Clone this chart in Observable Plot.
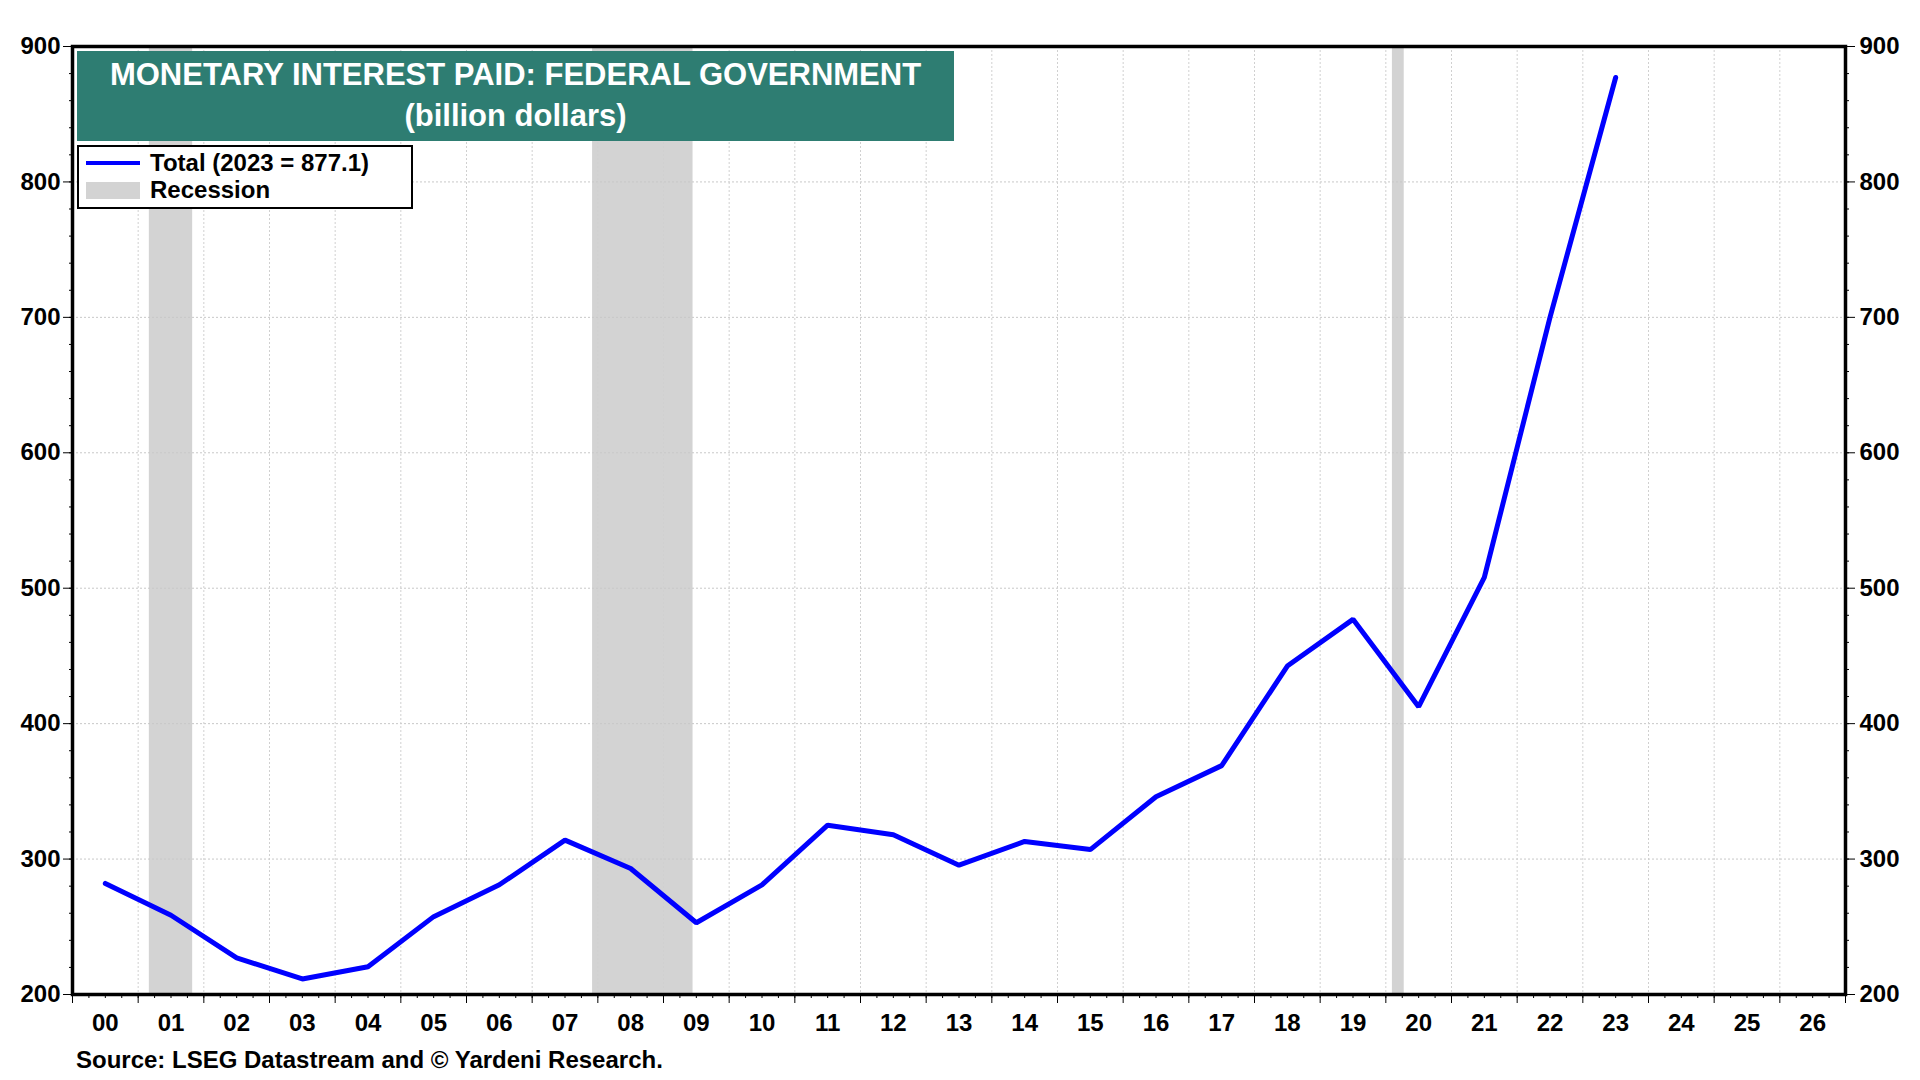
<!DOCTYPE html>
<html>
<head>
<meta charset="utf-8">
<script src="https://cdn.jsdelivr.net/npm/d3@7"></script>
<script src="https://cdn.jsdelivr.net/npm/@observablehq/plot@0.6"></script>
<style>
  html, body { margin: 0; padding: 0; background: #fff; }
  #wrap { position: relative; width: 1920px; height: 1080px; overflow: hidden; font-family: "Liberation Sans", Arial, sans-serif; font-weight: bold; }
  #title { position: absolute; left: 77px; top: 51px; width: 877px; height: 90px; background: #2E7D72; color: #fff; text-align: center; }
  #title .l1 { position: absolute; left: 0; right: 0; top: 8px; font-size: 31px; line-height: 32px; white-space: nowrap; }
  #title .l2 { position: absolute; left: 0; right: 0; top: 49px; font-size: 31px; line-height: 32px; }
  #legend { position: absolute; left: 77px; top: 145px; width: 332px; height: 60px; background: #fff; border: 2px solid #000; }
  #legend .row { position: absolute; left: 0; height: 26px; display: flex; align-items: center; font-size: 24px; color: #000; white-space: nowrap; }
  #legend .swl { width: 54px; height: 4px; background: #0000FF; margin-left: 7px; margin-right: 10px; }
  #legend .swr { width: 54px; height: 17px; background: #D3D3D3; margin-left: 7px; margin-right: 10px; }
  #source { position: absolute; left: 76px; top: 1046px; font-size: 24px; color: #000; white-space: nowrap; }
</style>
</head>
<body>
<div id="wrap">
  <div id="chart"></div>
  <div id="title"><div class="l1">MONETARY INTEREST PAID: FEDERAL GOVERNMENT</div><div class="l2">(billion dollars)</div></div>
  <div id="legend">
    <div class="row" style="top:3px"><div class="swl"></div><span>Total (2023 = 877.1)</span></div>
    <div class="row" style="top:30px"><div class="swr"></div><span>Recession</span></div>
  </div>
  <div id="source">Source: LSEG Datastream and © Yardeni Research.</div>
</div>
<script>
// Data
const years = [2000, 2001, 2002, 2003, 2004, 2005, 2006, 2007, 2008, 2009, 2010, 2011,
               2012, 2013, 2014, 2015, 2016, 2017, 2018, 2019, 2020, 2021, 2022, 2023];
const interestPaid = [282, 258.5, 227, 211.5, 220.5, 257.5, 281, 314, 293, 253, 281, 325,
                      318, 295.5, 313, 307, 346, 369, 442.5, 477, 412.5, 508, 700, 877.1];
const recessionStart = [2001.17, 2007.92, 2020.1];
const recessionEnd   = [2001.83, 2009.45, 2020.28];
const xDomain = [2000, 2027];
const yDomain = [200, 900];
const yMajorTicks = [200, 300, 400, 500, 600, 700, 800, 900];
const xLabelYears = d3.range(2000, 2027);

const data = years.map((yr, i) => ({x: yr + 0.5, y: interestPaid[i]}));
const recessions = recessionStart.map((s, i) => ({start: s, end: recessionEnd[i]}));
const yMinor = d3.range(yDomain[0], yDomain[1] + 1, 20);
const xMajor = d3.range(xDomain[0], xDomain[1] + 1, 1);
const xMinor = d3.range(xDomain[0], xDomain[1], 0.25);
const xLabels = xLabelYears.map(y => y + 0.5);

const chart = Plot.plot({
  width: 1920,
  height: 1080,
  marginLeft: 72,
  marginRight: 75,
  marginTop: 46,
  marginBottom: 86,
  style: "font-family: 'Liberation Sans', Arial, sans-serif; font-size: 24px; font-weight: bold; color: #000; background: #fff; overflow: visible;",
  x: {domain: xDomain},
  y: {domain: yDomain},
  marks: [
    Plot.rect(recessions, {x1: "start", x2: "end", fill: "#D3D3D3"}),
    Plot.gridY(yMajorTicks.filter(d => d > 200 && d < 900), {stroke: "#c8c8c8", strokeOpacity: 1, strokeDasharray: "2,2"}),
    Plot.gridX(xMajor.filter(d => d > 2000 && d < 2027), {stroke: "#d0d0d0", strokeOpacity: 1, strokeDasharray: "2,2"}),
    Plot.line(data, {x: "x", y: "y", stroke: "#0000FF", strokeWidth: 5, strokeLinejoin: "miter"}),
    Plot.axisY(yMinor, {anchor: "left", tickSize: 3, tickFormat: () => "", label: null}),
    Plot.axisY(yMinor, {anchor: "right", tickSize: 3, tickFormat: () => "", label: null}),
    Plot.axisY(yMajorTicks, {anchor: "left", tickSize: 9, tickPadding: 3, tickFormat: d => String(d), label: null, fontSize: 24}),
    Plot.axisY(yMajorTicks, {anchor: "right", tickSize: 9, tickPadding: 5, tickFormat: d => String(d), label: null, fontSize: 24}),
    Plot.axisX(xMinor, {anchor: "bottom", tickSize: 4, tickFormat: () => "", label: null}),
    Plot.axisX(xMajor, {anchor: "bottom", tickSize: 9, tickFormat: () => "", label: null}),
    Plot.axisX(xLabels, {anchor: "bottom", tickSize: 0, tickPadding: 19, tickFormat: d => String(Math.floor(d) % 100).padStart(2, "0"), label: null, fontSize: 24}),
    Plot.frame({stroke: "#000", strokeWidth: 3.5})
  ]
});
document.getElementById("chart").appendChild(chart);
</script>
</body>
</html>
